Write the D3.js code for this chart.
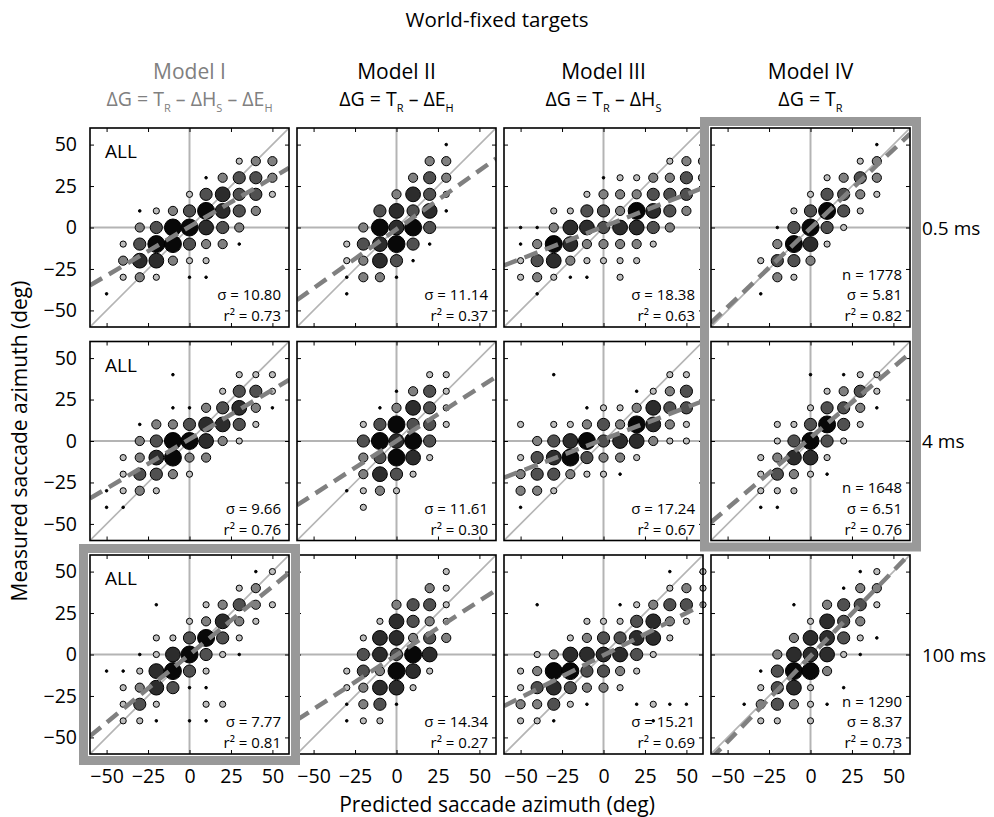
<!DOCTYPE html>
<html><head><meta charset="utf-8">
<script src="https://cdn.jsdelivr.net/npm/d3@7"></script>
<style>body{margin:0;background:#fff} text{font-family:"Open Sans",sans-serif}</style>
</head><body><svg id="c" width="994" height="817"></svg>
<script>
// ---------------- DATA ----------------
const title = "World-fixed targets";
const modelNames = ["Model I", "Model II", "Model III", "Model IV"];
// formula pieces: [text, isSubscript]
const modelFormulas = [
  [["ΔG = T",0],["R",1],[" – ΔH",0],["S",1],[" – ΔE",0],["H",1]],
  [["ΔG = T",0],["R",1],[" – ΔE",0],["H",1]],
  [["ΔG = T",0],["R",1],[" – ΔH",0],["S",1]],
  [["ΔG = T",0],["R",1]]
];
const rowLabels = ["0.5 ms", "4 ms", "100 ms"];
const tickValues = [-50, -25, 0, 25, 50];
const xLabel = "Predicted saccade azimuth (deg)";
const yLabel = "Measured saccade azimuth (deg)";
const sigmaVals = [[10.80, 11.14, 18.38, 5.81], [9.66, 11.61, 17.24, 6.51], [7.77, 14.34, 15.21, 8.37]];
const r2Vals = [[0.73, 0.37, 0.63, 0.82], [0.76, 0.30, 0.67, 0.76], [0.81, 0.27, 0.69, 0.73]];
const nVals = [1778, 1648, 1290];
const fitSlope = [[0.59, 0.71, 0.39, 0.95], [0.595, 0.645, 0.385, 0.85], [0.82, 0.653, 0.51, 1.03]];
const fitIntercept = [[0.5, -1.1, 0.5, -0.5], [1.1, 0, 1, 2], [0, -0.3, -0.5, -1]];
// highlighted (best) model panels: [row start, row end, col]
const highlights = [[0, 1, 3], [2, 2, 0]];

// bubbles: [predicted, measured, count level 1..6]
const bubbles_r0c0 = [[30,40,2],[40,40,3],[50,40,3],
[10,30,1],[20,30,3],[30,30,4],[40,30,4],[50,30,3],
[0,20,2],[10,20,4],[20,20,5],[30,20,4],[40,20,4],[50,20,2],
[-30,10,1],[-20,10,2],[-10,10,3],[0,10,4],[10,10,6],[20,10,5],[30,10,4],[40,10,3],
[-30,0,3],[-20,0,4],[-10,0,6],[0,0,6],[10,0,5],[20,0,4],[30,0,3],
[-40,-10,2],[-30,-10,4],[-20,-10,6],[-10,-10,6],[0,-10,4],[10,-10,3],[20,-10,3],[30,-10,1],
[-40,-20,3],[-30,-20,5],[-20,-20,5],[-10,-20,3],[0,-20,2],[10,-20,2],
[-40,-30,2],[-30,-30,3],[-20,-30,2],[0,-30,1],[10,-30,1],
[-50,-40,1]];
const bubbles_r0c1 = [[30,50,1],
[20,40,3],[30,40,3],
[10,30,3],[20,30,4],[30,30,3],
[0,20,3],[10,20,5],[20,20,4],[30,20,2],
[-10,10,4],[0,10,5],[10,10,4],[20,10,5],[30,10,1],
[-20,0,3],[-10,0,6],[0,0,5],[10,0,6],[20,0,4],
[-30,-10,2],[-20,-10,4],[-10,-10,5],[0,-10,6],[10,-10,4],[20,-10,1],
[-30,-20,2],[-20,-20,3],[-10,-20,5],[0,-20,4],[10,-20,1],
[-30,-30,1],[-20,-30,3],[-10,-30,3],[0,-30,1],
[-30,-40,1]];
const bubbles_r0c2 = [[40,40,2],[50,40,3],[60,40,3],
[0,30,1],[10,30,2],[20,30,2],[30,30,3],[40,30,3],[50,30,4],[60,30,3],
[-10,20,2],[0,20,3],[10,20,3],[20,20,3],[30,20,4],[40,20,4],[50,20,4],
[-30,10,2],[-20,10,2],[-10,10,4],[0,10,4],[10,10,3],[20,10,6],[30,10,5],[40,10,4],[50,10,3],
[-50,0,1],[-40,0,1],[-30,0,3],[-20,0,5],[-10,0,5],[0,0,4],[10,0,5],[20,0,5],[30,0,4],[40,0,3],
[-50,-10,1],[-40,-10,3],[-30,-10,6],[-20,-10,5],[-10,-10,3],[0,-10,3],[10,-10,3],[20,-10,3],[30,-10,2],
[-50,-20,2],[-40,-20,4],[-30,-20,5],[-20,-20,3],[-10,-20,2],[0,-20,2],[10,-20,2],[20,-20,2],
[-50,-30,2],[-40,-30,3],[-30,-30,2],[-20,-30,1],[-10,-30,1],[10,-30,2],
[-40,-40,1]];
const bubbles_r0c3 = [[40,50,1],
[30,40,2],[40,40,3],
[10,30,2],[20,30,3],[30,30,4],[40,30,3],
[0,20,2],[10,20,4],[20,20,4],[30,20,3],[40,20,2],
[-10,10,2],[0,10,4],[10,10,6],[20,10,4],[30,10,2],
[-20,0,1],[-10,0,4],[0,0,6],[10,0,4],[20,0,2],
[-20,-10,3],[-10,-10,6],[0,-10,5],[10,-10,2],
[-30,-20,2],[-20,-20,4],[-10,-20,4],[0,-20,3],
[-20,-30,3],[-10,-30,2],
[-30,-40,1]];
const bubbles_r1c0 = [[-10,40,1],[30,40,2],[40,40,2],[50,40,2],
[20,30,2],[30,30,4],[40,30,4],[50,30,2],
[-10,20,1],[0,20,1],[10,20,3],[20,20,4],[30,20,5],[40,20,3],[50,20,1],
[-30,10,1],[-20,10,3],[-10,10,3],[0,10,4],[10,10,5],[20,10,5],[30,10,4],[40,10,2],
[-30,0,3],[-20,0,4],[-10,0,6],[0,0,6],[10,0,5],[20,0,3],[30,0,2],
[-40,-10,2],[-30,-10,3],[-20,-10,5],[-10,-10,6],[0,-10,3],[10,-10,3],
[-40,-20,2],[-30,-20,4],[-20,-20,4],[-10,-20,3],[0,-20,2],
[-50,-30,1],[-40,-30,2],[-30,-30,3],[-20,-30,2],
[-50,-40,1],[-40,-40,1]];
const bubbles_r1c1 = [[20,40,2],[30,40,2],
[0,30,1],[10,30,3],[20,30,4],[30,30,2],
[-10,20,1],[0,20,3],[10,20,5],[20,20,4],[30,20,2],
[-20,10,2],[-10,10,4],[0,10,6],[10,10,4],[20,10,4],[30,10,2],
[-20,0,4],[-10,0,6],[0,0,5],[10,0,6],[20,0,4],
[-20,-10,3],[-10,-10,4],[0,-10,6],[10,-10,5],[20,-10,2],
[-20,-20,3],[-10,-20,5],[0,-20,4],[10,-20,2],
[-30,-30,1],[-20,-30,2],[-10,-30,3],[0,-30,2],
[-20,-40,2]];
const bubbles_r1c2 = [[-30,40,1],[40,40,2],[50,40,2],
[20,30,1],[30,30,2],[40,30,3],[50,30,4],
[-10,20,1],[0,20,2],[10,20,2],[20,20,3],[30,20,5],[40,20,4],[50,20,4],
[-50,10,2],[-30,10,2],[-20,10,2],[-10,10,3],[0,10,4],[10,10,3],[20,10,6],[30,10,5],[40,10,3],[50,10,2],
[-40,0,3],[-30,0,4],[-20,0,5],[-10,0,6],[0,0,4],[10,0,5],[20,0,5],[30,0,3],[40,0,2],[50,0,2],
[-50,-10,2],[-40,-10,4],[-30,-10,5],[-20,-10,6],[-10,-10,4],[0,-10,3],[10,-10,3],[20,-10,2],
[-50,-20,3],[-40,-20,4],[-30,-20,4],[-20,-20,3],[-10,-20,2],[0,-20,2],[10,-20,1],
[-50,-30,3],[-40,-30,3],[-30,-30,2],
[-50,-40,1]];
const bubbles_r1c3 = [[0,40,1],[20,40,1],[30,40,2],[40,40,2],
[10,30,2],[20,30,3],[30,30,4],[40,30,2],
[0,20,2],[10,20,4],[20,20,4],[30,20,3],[40,20,1],
[-20,10,2],[-10,10,2],[0,10,4],[10,10,6],[20,10,4],[30,10,2],
[-20,0,2],[-10,0,4],[0,0,6],[10,0,4],[20,0,2],
[-30,-10,2],[-20,-10,3],[-10,-10,5],[0,-10,5],[10,-10,2],
[-30,-20,2],[-20,-20,4],[-10,-20,3],[0,-20,2],[10,-20,1],
[-30,-30,2],[-20,-30,2],[-10,-30,2],
[-30,-40,1],[-20,-40,1]];
const bubbles_r2c0 = [[40,50,1],[50,50,2],
[30,40,2],[40,40,3],
[-20,30,1],[10,30,2],[20,30,3],[30,30,4],[40,30,3],[50,30,2],
[0,20,2],[10,20,3],[20,20,5],[30,20,3],[40,20,2],
[-20,10,2],[-10,10,2],[0,10,4],[10,10,6],[20,10,4],[30,10,2],
[-30,0,1],[-20,0,2],[-10,0,5],[0,0,6],[10,0,4],[20,0,2],[30,0,1],
[-50,-10,1],[-40,-10,1],[-30,-10,2],[-20,-10,5],[-10,-10,6],[0,-10,4],[10,-10,2],
[-40,-20,2],[-30,-20,3],[-20,-20,5],[-10,-20,4],[0,-20,1],[10,-20,1],
[-40,-30,2],[-30,-30,4],[-20,-30,2],[10,-30,2],[20,-30,2],
[-40,-40,2],[-30,-40,2],[-20,-40,1],[0,-40,1],[10,-40,1]];
const bubbles_r2c1 = [[30,50,2],
[20,40,3],[30,40,2],
[0,30,3],[10,30,4],[20,30,4],[30,30,2],
[-10,20,2],[0,20,5],[10,20,4],[20,20,3],[30,20,2],
[-20,10,2],[-10,10,5],[0,10,5],[10,10,3],[20,10,4],[30,10,3],
[-20,0,4],[-10,0,5],[0,0,4],[10,0,6],[20,0,5],
[-30,-10,2],[-20,-10,4],[-10,-10,3],[0,-10,6],[10,-10,5],[20,-10,2],
[-30,-20,2],[-20,-20,3],[-10,-20,5],[0,-20,5],[10,-20,2],
[-30,-30,1],[-20,-30,3],[-10,-30,4],[0,-30,1],
[-30,-40,1],[-20,-40,2],[-10,-40,2]];
const bubbles_r2c2 = [[40,50,1],[60,50,2],
[40,40,2],[50,40,3],[60,40,2],
[-40,30,1],[10,30,1],[20,30,2],[30,30,3],[40,30,4],[50,30,4],[60,30,2],
[-10,20,2],[0,20,2],[10,20,2],[20,20,4],[30,20,5],[40,20,3],[50,20,2],
[-20,10,2],[-10,10,3],[0,10,4],[10,10,4],[20,10,5],[30,10,5],[40,10,2],
[-40,0,2],[-30,0,3],[-20,0,5],[-10,0,5],[0,0,5],[10,0,5],[20,0,4],[30,0,2],
[-50,-10,2],[-40,-10,3],[-30,-10,6],[-20,-10,6],[-10,-10,4],[0,-10,4],[10,-10,3],[20,-10,2],
[-50,-20,2],[-40,-20,4],[-30,-20,5],[-20,-20,4],[-10,-20,3],[0,-20,3],[10,-20,2],
[-50,-30,3],[-40,-30,3],[-30,-30,4],[-20,-30,2],[-10,-30,1],[20,-30,1],[30,-30,2],[40,-30,1],[50,-30,1],
[-50,-40,2],[-40,-40,2],[-30,-40,1],[30,-40,1]];
const bubbles_r2c3 = [[30,50,1],[40,50,2],
[20,40,1],[30,40,3],[40,40,3],
[-10,30,1],[10,30,3],[20,30,4],[30,30,4],[40,30,2],
[0,20,2],[10,20,5],[20,20,4],[30,20,3],
[-10,10,3],[0,10,5],[10,10,5],[20,10,4],[30,10,2],[40,10,1],
[-20,0,3],[-10,0,5],[0,0,5],[10,0,5],[20,0,2],[30,0,1],
[-30,-10,1],[-20,-10,4],[-10,-10,6],[0,-10,6],[10,-10,3],
[-30,-20,2],[-20,-20,4],[-10,-20,5],[0,-20,2],[20,-20,1],
[-40,-30,1],[-30,-30,3],[-20,-30,4],[-10,-30,3],[0,-30,2],[10,-30,1],
[-30,-40,2],[-20,-40,2],[0,-40,2]];
const bubbleSets = [
  [bubbles_r0c0, bubbles_r0c1, bubbles_r0c2, bubbles_r0c3],
  [bubbles_r1c0, bubbles_r1c1, bubbles_r1c2, bubbles_r1c3],
  [bubbles_r2c0, bubbles_r2c1, bubbles_r2c2, bubbles_r2c3]
];

// ---------------- LAYOUT ----------------
const svg = d3.select("#c");
const PW = 199, colStep = 207, rowStep = 213.5, left0 = 90, top0 = 128;
const colX = c => left0 + c * colStep;
const rowY = r => top0 + r * rowStep;
const xs = d3.scaleLinear().domain([-60, 60]).range([0, PW]);
const ys = d3.scaleLinear().domain([-60, 60]).range([PW, 0]);
const levels = [1, 2, 3, 4, 5, 6];
const rScale = d3.scaleOrdinal().domain(levels).range([1.3, 3.1, 4.6, 6.1, 7.4, 8.5]);
const fillScale = d3.scaleOrdinal().domain(levels).range(["#000", "#bdbdbd", "#808080", "#505050", "#2c2c2c", "#080808"]);
const fmt2 = d3.format(".2f");

svg.append("rect").attr("width", 994).attr("height", 817).attr("fill", "#fff");

// title
svg.append("text").attr("x", 497).attr("y", 27).attr("text-anchor", "middle")
  .attr("font-size", 20.5).text(title);

// column headers
modelNames.forEach((m, c) => {
  const cx = colX(c) + PW / 2;
  const col = c === 0 ? "#808080" : "#000";
  svg.append("text").attr("x", cx).attr("y", 79).attr("text-anchor", "middle")
    .attr("font-size", 21).attr("fill", col).text(m);
  const t = svg.append("text").attr("x", cx).attr("y", 106).attr("text-anchor", "middle")
    .attr("font-size", 19.5).attr("fill", col);
  let prevSub = 0;
  modelFormulas[c].forEach(([s, sub]) => {
    const ts = t.append("tspan").text(s);
    if (sub) { ts.attr("font-size", 11).attr("dy", 6); }
    else if (prevSub) { ts.attr("dy", -6); }
    prevSub = sub;
  });
});

const defs = svg.append("defs");
defs.append("clipPath").attr("id", "pclip").append("rect").attr("width", PW).attr("height", PW);

for (let r = 0; r < 3; r++) {
  for (let c = 0; c < 4; c++) {
    const g = svg.append("g").attr("transform", `translate(${colX(c)},${rowY(r)})`);
    g.append("rect").attr("width", PW).attr("height", PW).attr("fill", "#fff");
    const clipG = g.append("g").attr("clip-path", "url(#pclip)");
    // zero grid lines
    clipG.append("line").attr("x1", xs(0)).attr("x2", xs(0)).attr("y1", 0).attr("y2", PW)
      .attr("stroke", "#b4b4b4").attr("stroke-width", 2);
    clipG.append("line").attr("x1", 0).attr("x2", PW).attr("y1", ys(0)).attr("y2", ys(0))
      .attr("stroke", "#b4b4b4").attr("stroke-width", 2);
    // identity
    clipG.append("line").attr("x1", xs(-60)).attr("y1", ys(-60)).attr("x2", xs(60)).attr("y2", ys(60))
      .attr("stroke", "#b4b4b4").attr("stroke-width", 1.6);
    // axes (inward ticks)
    const axL = d3.axisLeft(ys).tickValues(tickValues).tickSizeInner(-4).tickSizeOuter(0).tickPadding(13);
    if (c !== 0) axL.tickFormat("");
    const aL = g.append("g").call(axL);
    const axB = d3.axisBottom(xs).tickValues(tickValues).tickSizeInner(-4).tickSizeOuter(0).tickPadding(15);
    if (r !== 2) axB.tickFormat("");
    const aB = g.append("g").attr("transform", `translate(0,${PW})`).call(axB);
    const aT = g.append("g").call(d3.axisTop(xs).tickValues(tickValues).tickSizeInner(-4).tickSizeOuter(0).tickFormat(""));
    const aR = g.append("g").attr("transform", `translate(${PW},0)`).call(d3.axisRight(ys).tickValues(tickValues).tickSizeInner(-4).tickSizeOuter(0).tickFormat(""));
    [aL, aB, aT, aR].forEach(a => {
      a.select(".domain").remove();
      a.selectAll("line").attr("stroke", "#000").attr("stroke-width", 1);
      a.selectAll("text").attr("font-size", 19.5).attr("font-family", '"Open Sans",sans-serif').attr("fill", "#000");
    });
    // bubbles
    g.append("g").selectAll("circle").data(bubbleSets[r][c]).join("circle")
      .attr("cx", d => xs(d[0])).attr("cy", d => ys(d[1]))
      .attr("r", d => rScale(d[2])).attr("fill", d => fillScale(d[2]))
      .attr("stroke", "#000").attr("stroke-width", 1);
    // regression line
    const b = fitSlope[r][c], a0 = fitIntercept[r][c];
    const fitLine = d3.line().x(d => xs(d)).y(d => ys(a0 + b * d));
    g.append("g").attr("clip-path", "url(#pclip)").append("path").attr("d", fitLine([-60, 60]))
      .attr("fill", "none").attr("stroke", "#808080").attr("stroke-width", 4.5).attr("stroke-dasharray", "14,8");
    // border
    g.append("rect").attr("width", PW).attr("height", PW).attr("fill", "none")
      .attr("stroke", "#000").attr("stroke-width", 1.6);
    // ALL label
    if (c === 0) g.append("text").attr("x", 15).attr("y", 30).attr("font-size", 19).text("ALL");
    // stats
    const lines = [];
    if (c === 3) lines.push("n = " + nVals[r]);
    lines.push("σ = " + fmt2(sigmaVals[r][c]));
    lines.push("r² = " + fmt2(r2Vals[r][c]));
    lines.forEach((s, i) => {
      g.append("text").attr("text-anchor", "end").attr("font-size", 15)
        .attr("x", PW - 8).attr("y", PW - 6 - (lines.length - 1 - i) * 20.6).text(s);
    });
  }
  // row label
  svg.append("text").attr("x", 922).attr("y", rowY(r) + ys(0) + 7).attr("font-size", 19).text(rowLabels[r]);
}

// highlight frames for best model, drawn on top
highlights.forEach(([r0, r1, c]) => {
  const inset = 6.5;
  svg.append("rect")
    .attr("x", colX(c) - inset).attr("y", rowY(r0) - inset)
    .attr("width", PW + 2 * inset).attr("height", rowY(r1) + PW - rowY(r0) + 2 * inset)
    .attr("fill", "none").attr("stroke", "#999").attr("stroke-width", 9);
});

// axis titles
svg.append("text").attr("x", 497).attr("y", 812).attr("text-anchor", "middle").attr("font-size", 21).text(xLabel);
svg.append("text").attr("transform", "translate(27,441) rotate(-90)").attr("text-anchor", "middle").attr("font-size", 21).text(yLabel);
</script></body></html>
